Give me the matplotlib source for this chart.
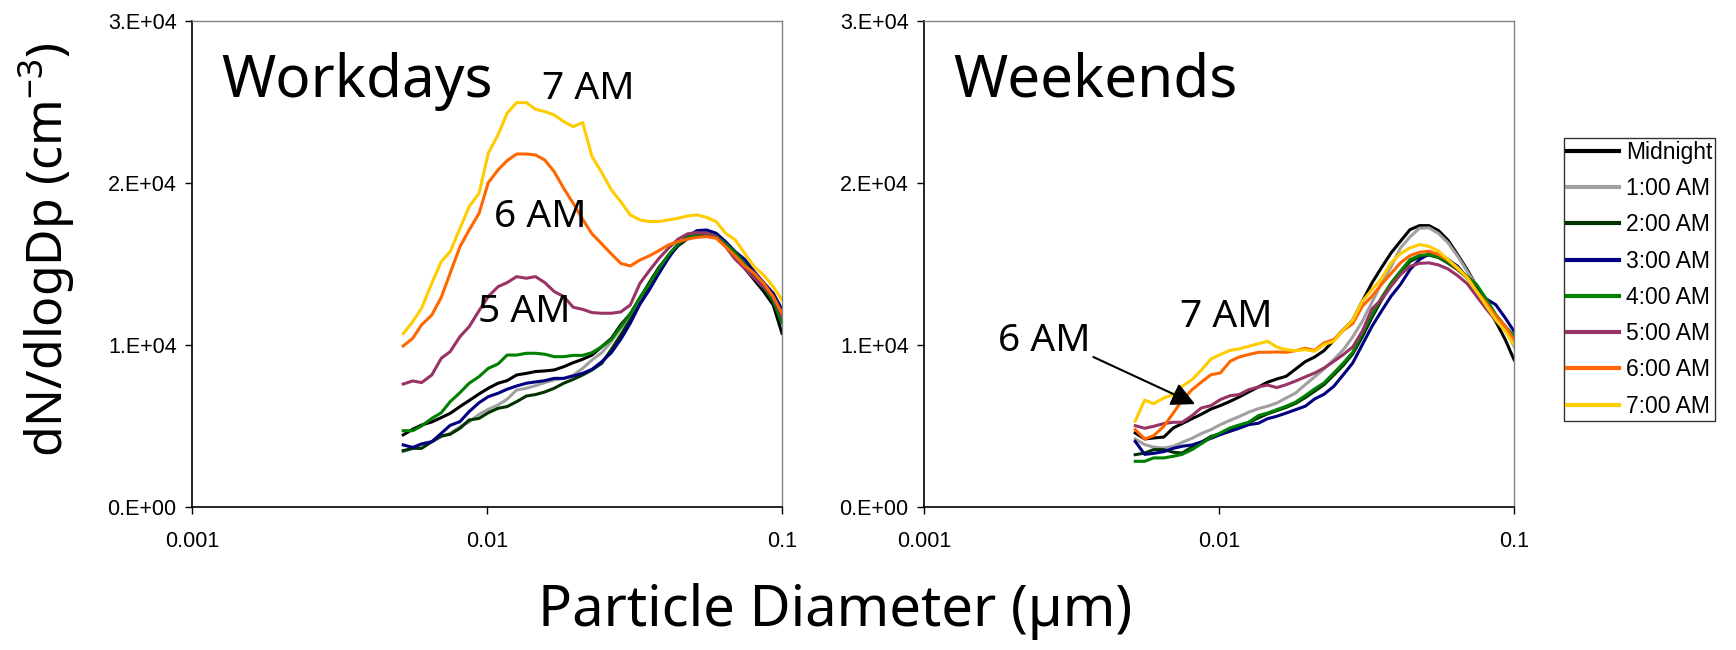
import matplotlib
matplotlib.use("Agg")
import matplotlib.pyplot as plt
from matplotlib.ticker import NullLocator

plt.rcParams['font.family'] = ['Liberation Sans', 'DejaVu Sans']
BIG_FONT = ['Noto Sans', 'DejaVu Sans']

# particle diameter (um)
diam = [0.0052, 0.0056, 0.0060, 0.0065, 0.0070, 0.0075, 0.0081, 0.0087, 0.0094, 0.0101,
        0.0109, 0.0117, 0.0126, 0.0136, 0.0146, 0.0157, 0.0169, 0.0182, 0.0196, 0.0211,
        0.0227, 0.0245, 0.0264, 0.0284, 0.0306, 0.0330, 0.0355, 0.0383, 0.0412, 0.0444,
        0.0478, 0.0515, 0.0555, 0.0598, 0.0644, 0.0694, 0.0747, 0.0805, 0.0867, 0.0934, 0.1000]

hours = ["Midnight", "1:00 AM", "2:00 AM", "3:00 AM", "4:00 AM", "5:00 AM", "6:00 AM", "7:00 AM"]
colors = ["#000000", "#a0a0a0", "#003300", "#000080", "#008000", "#993366", "#ff6600", "#ffcc00"]

# workdays, dN/dlogDp (cm-3)
wd_midnight = [4450, 4800, 5060, 5250, 5520, 5780, 6200, 6570, 6980, 7330, 7640, 7800, 8150, 8250,
               8360, 8400, 8460, 8660, 8910, 9120, 9380, 9900, 10410, 11240, 11920, 12880, 13850,
               14800, 15500, 16180, 16650, 16980, 17000, 16790, 16180, 15460, 14740, 14020, 13300,
               12470, 10720]
wd_1am = [3420, 3620, 3890, 4030, 4340, 4550, 4960, 5250, 5720, 6030, 6300, 6650, 7220, 7330, 7490,
          7680, 7840, 7940, 8130, 8560, 9080, 9530, 10210, 11030, 11650, 12780, 13560, 14630, 15500,
          16240, 16690, 16960, 17000, 16790, 16240, 15560, 15000, 14220, 13500, 12880, 11850]
wd_2am = [3480, 3620, 3620, 4030, 4380, 4490, 4860, 5370, 5470, 5820, 6090, 6200, 6500, 6850, 6940,
          7100, 7330, 7640, 7880, 8150, 8460, 8870, 9730, 10620, 11550, 12530, 13500, 14530, 15460,
          16110, 16550, 16770, 16790, 16730, 16240, 15620, 14940, 14260, 13500, 12680, 11440]
wd_3am = [3830, 3680, 3890, 4030, 4550, 5040, 5270, 5890, 6440, 6810, 7020, 7270, 7470, 7640, 7720,
          7800, 7940, 7940, 8090, 8250, 8500, 8970, 9530, 10350, 11340, 12530, 13400, 14430, 15350,
          16180, 16690, 17060, 17100, 16900, 16380, 15760, 15290, 14530, 13850, 13190, 12200]
wd_4am = [4710, 4710, 5000, 5470, 5820, 6500, 7060, 7640, 8050, 8560, 8830, 9380, 9380, 9490, 9490,
          9430, 9280, 9280, 9360, 9360, 9530, 9900, 10350, 11130, 11920, 12950, 13770, 14740, 15560,
          16240, 16650, 16860, 16900, 16730, 16240, 15700, 15000, 14320, 13600, 12740, 11340]
wd_5am = [7590, 7780, 7680, 8150, 9180, 9590, 10520, 11130, 12120, 12990, 13600, 13850, 14220, 14120,
          14220, 13850, 13300, 12990, 12330, 12200, 12000, 11960, 11960, 12040, 12470, 13810, 14590,
          15350, 15970, 16530, 16860, 16940, 16900, 16690, 16070, 15290, 14740, 14120, 13600, 12950,
          11750]
wd_6am = [9940, 10410, 11240, 11850, 12950, 14430, 16070, 17100, 18130, 20020, 20810, 21380, 21790,
          21790, 21730, 21420, 20700, 19670, 18750, 17760, 16860, 16240, 15620, 15040, 14880, 15250,
          15500, 15830, 16180, 16380, 16530, 16650, 16690, 16590, 16070, 15500, 14880, 14430, 13810,
          12990, 11960]
wd_7am = [10700, 11440, 12270, 13810, 15150, 15760, 17200, 18540, 19370, 21840, 22970, 24310, 24960,
          24960, 24550, 24410, 24200, 23790, 23480, 23730, 21630, 20640, 19570, 18850, 18030, 17720,
          17620, 17620, 17720, 17820, 17970, 18030, 17880, 17620, 16900, 16490, 15660, 14840, 14320,
          13600, 12780]

# weekends, dN/dlogDp (cm-3)
we_midnight = [4570, 4200, 4260, 4320, 4880, 5150, 5450, 5720, 6050, 6260, 6520, 6790, 7100, 7410,
               7700, 7900, 8070, 8520, 8970, 9260, 9650, 10290, 10950, 11530, 12700, 13830, 14760,
               15680, 16400, 17120, 17370, 17370, 17060, 16460, 15580, 14650, 13620, 12490, 11460,
               10330, 9100]
we_1am = [4200, 3850, 3700, 3640, 3750, 3990, 4240, 4530, 4780, 5080, 5350, 5580, 5850, 6070, 6220,
          6420, 6730, 7040, 7550, 8030, 8520, 9100, 9710, 10500, 11460, 12640, 13790, 14820, 15990,
          16670, 17210, 17230, 16880, 16300, 15480, 14550, 13620, 12700, 11770, 10950, 9920]
we_2am = [3230, 3330, 3540, 3540, 3380, 3330, 3700, 3990, 4360, 4520, 4800, 5000, 5200, 5500, 5750,
          5950, 6150, 6400, 6750, 7150, 7550, 8150, 8750, 9450, 10500, 11700, 12750, 13700, 14500,
          15150, 15450, 15550, 15400, 15050, 14650, 14150, 13600, 12750, 11800, 11050, 10400]
we_3am = [4050, 3250, 3310, 3420, 3620, 3750, 3830, 4010, 4240, 4470, 4670, 4860, 5080, 5170, 5450,
          5600, 5800, 6010, 6220, 6670, 6960, 7450, 8170, 8890, 10020, 11150, 12080, 13010, 13730,
          14650, 15270, 15620, 15600, 15270, 14860, 14140, 13520, 12840, 12490, 11670, 10850]
we_4am = [2820, 2820, 3030, 3030, 3130, 3250, 3540, 3900, 4300, 4570, 4880, 5060, 5230, 5640, 5800,
          6010, 6220, 6480, 6870, 7290, 7660, 8270, 8890, 9550, 10740, 11880, 12900, 13830, 14550,
          15270, 15520, 15580, 15440, 15110, 14740, 14240, 13730, 12840, 11880, 11150, 10540]
we_5am = [5020, 4860, 4980, 5150, 5230, 5230, 5640, 6110, 6260, 6630, 6870, 6940, 7240, 7410, 7530,
          7370, 7550, 7780, 8030, 8270, 8580, 8990, 9410, 9880, 10850, 12230, 12800, 13620, 14340,
          14860, 15040, 15070, 14940, 14690, 14280, 13790, 13010, 12230, 11530, 10910, 10230]
we_6am = [4780, 4200, 4400, 4980, 5800, 6590, 7240, 7700, 8170, 8270, 8990, 9260, 9410, 9550, 9550,
          9570, 9550, 9650, 9800, 9670, 10130, 10330, 10910, 11320, 12390, 13010, 13730, 14410, 15070,
          15520, 15720, 15790, 15580, 15230, 14690, 14200, 13320, 12600, 11810, 11150, 10330]
we_7am = [5300, 6600, 6380, 6730, 6940, 7450, 7860, 8440, 9140, 9410, 9670, 9760, 9920, 10080, 10230,
          9880, 9710, 9650, 9710, 9610, 10020, 10230, 10950, 11530, 12700, 13420, 14080, 15070, 15640,
          15990, 16200, 16090, 15790, 15270, 14760, 14140, 13320, 12430, 11570, 10850, 10020]

workdays = [wd_midnight, wd_1am, wd_2am, wd_3am, wd_4am, wd_5am, wd_6am, wd_7am]
weekends = [we_midnight, we_1am, we_2am, we_3am, we_4am, we_5am, we_6am, we_7am]

xtick_vals = [0.001, 0.01, 0.1]
xtick_labels = ["0.001", "0.01", "0.1"]
ytick_vals = [0, 10000, 20000, 30000]
ytick_labels = ["0.E+00", "1.E+04", "2.E+04", "3.E+04"]

W, H = 1736, 650
fig = plt.figure(figsize=(W / 100, H / 100), dpi=100)
ax1 = fig.add_axes([192 / W, (H - 507) / H, 590 / W, 486 / H])
ax2 = fig.add_axes([924 / W, (H - 507) / H, 590 / W, 486 / H])

for ax, series, title in [(ax1, workdays, "Workdays"), (ax2, weekends, "Weekends")]:
    for vals, col, lab in zip(series, colors, hours):
        ax.plot(diam, vals, color=col, lw=2.2, label=lab)
    ax.set_xscale('log')
    ax.set_xlim(0.001, 0.1)
    ax.set_ylim(0, 30000)
    ax.set_xticks(xtick_vals)
    ax.set_xticklabels(xtick_labels)
    ax.xaxis.set_minor_locator(NullLocator())
    ax.set_yticks(ytick_vals)
    ax.set_yticklabels(ytick_labels)
    ax.tick_params(axis='both', direction='out', length=5, width=1, labelsize=15.5, colors='black')
    ax.tick_params(axis='x', pad=12)
    ax.tick_params(axis='y', pad=6)
    for side in ['top', 'right']:
        ax.spines[side].set_color('#808080')
        ax.spines[side].set_linewidth(1.0)
    for side in ['left', 'bottom']:
        ax.spines[side].set_color('black')
        ax.spines[side].set_linewidth(1.2)
    ax.text(0.049, 0.844, title, transform=ax.transAxes, ha='left', va='baseline',
            fontsize=42, family=BIG_FONT)

# hour labels
ax1.text(0.0220, 25185, "7 AM", ha='center', va='baseline', fontsize=28, family=BIG_FONT)
ax1.text(0.0151, 17284, "6 AM", ha='center', va='baseline', fontsize=28, family=BIG_FONT)
ax1.text(0.0134, 11420, "5 AM", ha='center', va='baseline', fontsize=28, family=BIG_FONT)
ax2.text(0.0106, 11111, "7 AM", ha='center', va='baseline', fontsize=28, family=BIG_FONT)
ax2.text(0.00255, 9630, "6 AM", ha='center', va='baseline', fontsize=28, family=BIG_FONT)
ax2.annotate("", xy=(0.0083, 6350), xytext=(0.00375, 9260),
             arrowprops=dict(arrowstyle='-|>', color='black', lw=1.5, mutation_scale=36,
                             shrinkA=0, shrinkB=0))

fig.text(47 / W, 1 - 250 / H, r"dN/dlogDp (cm$^{\mathregular{-3}}$)", rotation=90,
         ha='center', va='center', fontsize=36, family=BIG_FONT)
fig.text(835 / W, 1 - 612 / H, "Particle Diameter (µm)", ha='center', va='center',
         fontsize=40.5, family=BIG_FONT)

handles, labels = ax1.get_legend_handles_labels()
leg = fig.legend(handles, labels, loc='upper left', bbox_to_anchor=(1564 / W, 1 - 138 / H),
                 borderaxespad=0, frameon=True, fancybox=False, edgecolor='black', fontsize=16.5,
                 handlelength=2.3, handletextpad=0.3, labelspacing=0.58, borderpad=0.12)
leg.get_frame().set_linewidth(1.0)
for line in leg.get_lines():
    line.set_linewidth(3)

fig.savefig("out.png", dpi=100)
